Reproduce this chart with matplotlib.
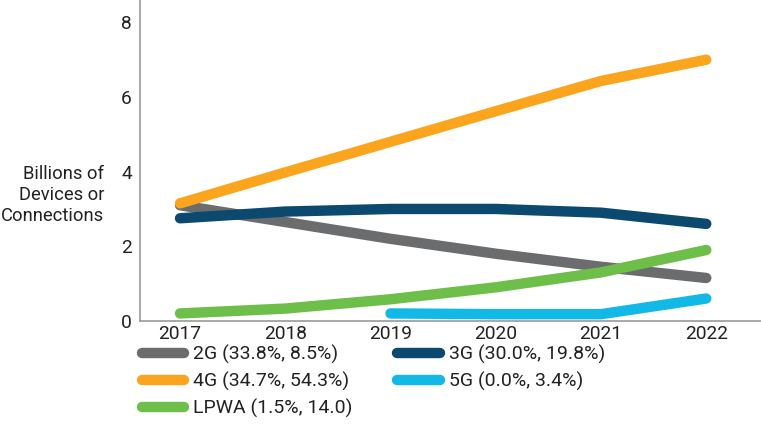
import matplotlib
matplotlib.use("Agg")
import matplotlib.pyplot as plt
from matplotlib.lines import Line2D

plt.rcParams['font.family'] = ['Roboto', 'DejaVu Sans']

years = [2017, 2018, 2019, 2020, 2021, 2022]
g2 = [3.1, 2.65, 2.2, 1.8, 1.45, 1.15]
g3 = [2.75, 2.93, 3.0, 3.0, 2.9, 2.6]
g4 = [3.15, 3.98, 4.8, 5.62, 6.43, 7.0]
lpwa = [0.2, 0.33, 0.58, 0.9, 1.3, 1.9]
years_5g = [2019, 2020, 2021, 2022]
g5 = [0.2, 0.18, 0.18, 0.6]

labels = {
    '2G': '2G (33.8%, 8.5%)',
    '3G': '3G (30.0%, 19.8%)',
    '4G': '4G (34.7%, 54.3%)',
    '5G': '5G (0.0%, 3.4%)',
    'LPWA': 'LPWA (1.5%, 14.0)',
}
colors = {
    '2G': '#6b6c6e',
    '3G': '#0b4a6e',
    '4G': '#fba51f',
    '5G': '#13b9e6',
    'LPWA': '#6ebe4a',
}

fig = plt.figure(figsize=(7.61, 4.29), dpi=100)
ax = fig.add_axes([0.184, 0.252, 0.816, 0.748])

lw = 7.5
series = [('2G', years, g2), ('3G', years, g3), ('LPWA', years, lpwa),
          ('5G', years_5g, g5), ('4G', years, g4)]
for key, xs, ys in series:
    ax.plot(xs, ys, color=colors[key], lw=lw, solid_capstyle='round',
            solid_joinstyle='round')

ax.set_xlim(2016.62, 2022.52)
ax.set_ylim(0, 8.6)
ax.set_yticks([0, 2, 4, 6, 8])
ax.set_xticks(years)
ax.tick_params(length=0, labelsize=13.8, colors='#222222')
ax.tick_params(axis='x', pad=3)
ax.tick_params(axis='y', pad=6)
for s in ['top', 'right']:
    ax.spines[s].set_visible(False)
for s in ['left', 'bottom']:
    ax.spines[s].set_color('#9a9a9a')
    ax.spines[s].set_linewidth(1.2)

fig.text(0.137, 0.545, 'Billions of\nDevices or\nConnections', ha='right',
         va='center', fontsize=13.2, color='#222222', linespacing=1.2)

order = ['2G', '4G', 'LPWA', '3G', '5G']
handles = [Line2D([0], [0], color=colors[k], lw=lw, solid_capstyle='round')
           for k in order]
fig.legend(handles, [labels[k] for k in order], ncol=2, loc='upper left',
           bbox_to_anchor=(0.186, 0.196), frameon=False, fontsize=14,
           handlelength=2.2, handletextpad=0.45, columnspacing=2.3,
           labelspacing=0.4, borderaxespad=0, borderpad=0,
           labelcolor='#222222')

fig.savefig('out.png', dpi=100)
